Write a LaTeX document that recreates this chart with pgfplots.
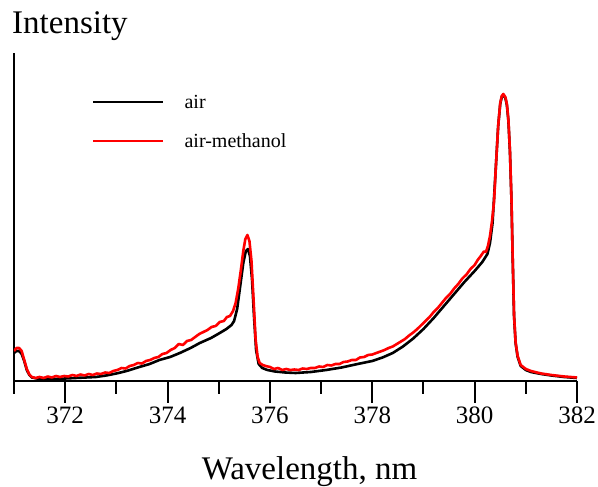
\documentclass[border=0pt]{standalone}
\usepackage{pgfplots}
\pgfplotsset{compat=1.18}
\usepackage{fontspec}
\setmainfont{Liberation Serif}

\begin{document}
\begin{tikzpicture}
\useasboundingbox (-14pt,-106pt) rectangle (584pt,381pt);
\begin{axis}[
  name=ax,
  scale only axis, width=563pt, height=328pt,
  xmin=371, xmax=382, ymin=0, ymax=328,
  axis x line*=bottom, axis y line*=left,
  axis line style={line width=2.4pt},
  xtick={372,374,...,382}, minor xtick={371,373,...,381},
  ytick=\empty,
  tick align=outside,
  major tick length=22pt, minor tick length=13pt,
  every tick/.style={line width=2pt, black},
  /pgf/number format/assume math mode=true,
  /pgf/number format/1000 sep={},
  xticklabel style={font=\fontsize{25}{30}\selectfont},
  xlabel={Wavelength, nm},
  xlabel style={font=\fontsize{33}{40}\selectfont, at={(axis description cs:0.5,0)}, anchor=base, yshift=-99pt, xshift=14pt},
  legend image code/.code={\draw[#1] (0pt,0pt) -- (70pt,0pt);},
  legend style={draw=none, fill=none, inner sep=0pt, outer sep=0pt,
    font=\fontsize{20}{24}\selectfont,
    nodes={inner sep=0pt, text height=16pt, text depth=2pt},
    row sep=21pt,
    /tikz/every odd column/.style={column sep=20pt},
    at={(axis description cs:0.13855,0.87805)}, anchor=north west},
  legend cell align=left,
]
\addplot[black, line width=2.6pt, line join=round] coordinates {
(371.00,28)(371.05,30)(371.10,30)(371.15,27)(371.20,20)(371.25,11)(371.30,6)(371.35,3.5)(371.45,2.5)(371.60,2)(371.80,2)(372.00,2.5)(372.20,3)(372.40,3.5)(372.60,4)(372.80,5.5)(373.00,7.5)(373.20,10)(373.45,14)(373.65,17)(373.84,21)(374.05,24)(374.24,28)(374.45,33)(374.63,38)(374.85,43)(375.02,48)(375.15,52)(375.25,56)(375.30,60)(375.36,72)(375.42,95)(375.48,118)(375.53,130)(375.57,132)(375.61,125)(375.65,102)(375.69,64)(375.73,31)(375.78,17)(375.85,13)(375.95,11)(376.10,9.5)(376.30,8.5)(376.50,8)(376.80,9)(377.10,11)(377.40,13.5)(377.76,17.5)(378.00,20)(378.20,23.5)(378.40,28)(378.60,34.5)(378.80,42.5)(379.00,52)(379.20,63)(379.40,75)(379.60,87)(379.80,99)(380.00,110)(380.15,119)(380.25,127)(380.30,138)(380.35,158)(380.41,210)(380.46,255)(380.50,277)(380.53,284)(380.56,286)(380.60,283)(380.63,276)(380.66,260)(380.69,229)(380.72,180)(380.74,130)(380.77,65)(380.80,38)(380.84,24)(380.90,15)(381.00,11)(381.10,9)(381.30,7)(381.50,5.5)(381.75,4)(382.00,3)
};
\addlegendentry{air}
\addplot[red, line width=2.6pt, line join=round] coordinates {
(371.00,30)(371.05,33)(371.10,33)(371.15,30)(371.20,21)(371.25,12)(371.30,6.5)(371.35,4)(371.42,3)(371.50,4)(371.58,3)(371.66,4.5)(371.74,3.5)(371.82,5)(371.90,4)(371.98,5)(372.06,4.5)(372.14,6)(372.22,5)(372.30,6.5)(372.38,5.5)(372.46,7)(372.54,6)(372.62,7.5)(372.70,7)(372.78,8.5)(372.86,8)(372.94,10)(373.02,11)(373.10,13)(373.18,12.5)(373.26,15)(373.34,16)(373.42,18)(373.50,17.5)(373.58,20)(373.66,21)(373.74,23)(373.82,24)(373.90,27)(373.98,28)(374.06,31)(374.14,33)(374.22,37)(374.30,36)(374.38,40)(374.46,41)(374.54,44)(374.62,47)(374.70,49)(374.78,51)(374.86,54)(374.94,55)(375.02,59)(375.10,60)(375.16,64)(375.22,65)(375.28,70)(375.33,78)(375.38,92)(375.43,110)(375.48,130)(375.52,142)(375.56,146)(375.60,140)(375.64,120)(375.68,82)(375.72,42)(375.76,24)(375.80,18)(375.86,16)(375.92,15)(376.00,14)(376.08,12)(376.16,13)(376.24,11)(376.32,12)(376.40,11)(376.48,11.5)(376.56,11)(376.64,12.5)(376.72,12)(376.80,13)(376.88,13)(376.96,14.5)(377.04,14)(377.12,16)(377.20,15.5)(377.28,17)(377.36,17)(377.44,19)(377.52,19.5)(377.60,21)(377.68,21)(377.76,23.5)(377.84,24)(377.92,26)(378.00,26.5)(378.08,28)(378.16,29.5)(378.24,31)(378.32,33)(378.40,34.5)(378.48,37)(378.56,39.5)(378.64,42)(378.72,45.5)(378.80,48.5)(378.88,52)(378.96,56)(379.04,60)(379.12,64)(379.20,69)(379.28,73)(379.36,78)(379.44,83)(379.52,87)(379.60,92.5)(379.68,97)(379.76,102.5)(379.84,106.5)(379.92,112)(380.00,116)(380.06,121)(380.12,125)(380.18,129.5)(380.22,129)(380.26,135)(380.30,145)(380.34,160)(380.38,180)(380.41,210)(380.46,255)(380.50,278)(380.53,285)(380.56,287)(380.60,284)(380.63,277)(380.66,261)(380.69,230)(380.72,181)(380.74,131)(380.77,66)(380.80,39)(380.84,25)(380.90,16)(381.00,12)(381.10,10)(381.30,7.5)(381.50,6)(381.75,4.5)(382.00,3.5)
};
\addlegendentry{air-methanol}
\end{axis}
\node[anchor=base west, inner sep=0pt, font=\fontsize{33}{40}\selectfont] at ([xshift=-2pt, yshift=19pt]ax.north west) {Intensity};
\end{tikzpicture}
\end{document}
